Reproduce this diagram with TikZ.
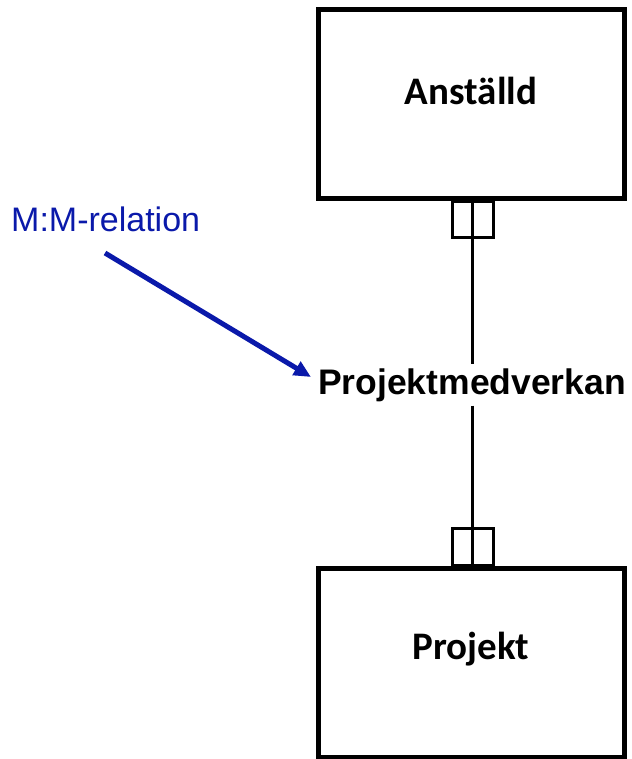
\documentclass[tikz,border=0pt]{standalone}
\usepackage{fontspec}
\setmainfont{Liberation Sans}
\newfontfamily\calfont{Carlito}
\usetikzlibrary{arrows.meta}
\definecolor{mmblue}{RGB}{10,25,170}
\begin{document}
\begin{tikzpicture}[x=1pt,y=-1pt,
  entity/.style={draw, line width=5pt, minimum width=306pt, minimum height=189pt,
    inner sep=0pt},
  entitytext/.style={font=\calfont\bfseries\fontsize{39}{41}\selectfont, inner sep=0pt},
  rel/.style={line width=3pt},
  cardmark/.style={line width=3pt}]
\useasboundingbox (0,0) rectangle (631,759);
\node[entity, label={[entitytext, yshift=14pt]center:Anställd}] (anst) at (471,104.5) {};
\node[entity, label={[entitytext, yshift=13pt]center:Projekt}] (proj) at (471,662.5) {};
\node[font=\bfseries\fontsize{35.5}{37}\selectfont, inner xsep=0pt, inner ysep=4pt] (pm) at (472,385) {Projektmedverkan};
\draw[rel] (anst.south -| pm.north) -- (pm.north);
\draw[rel] (pm.south) -- (proj.north -| pm.south);
\draw[cardmark] ([xshift=-20pt]anst.south -| pm.north) rectangle ([xshift=21pt,yshift=-36pt]anst.south -| pm.north);
\draw[cardmark] ([xshift=-20pt]proj.north -| pm.south) rectangle ([xshift=21pt,yshift=37pt]proj.north -| pm.south);
\node[text=mmblue, font=\fontsize{34}{36}\selectfont, anchor=base west, inner sep=0pt] (mm) at (11,231) {M:M-relation};
\coordinate (mmstart) at (105,253);
\coordinate (mmtip) at (311,377);
\draw[mmblue, line width=5pt, -{Triangle[length=17pt,width=15pt]}] (mmstart) -- (mmtip);
\end{tikzpicture}
\end{document}
